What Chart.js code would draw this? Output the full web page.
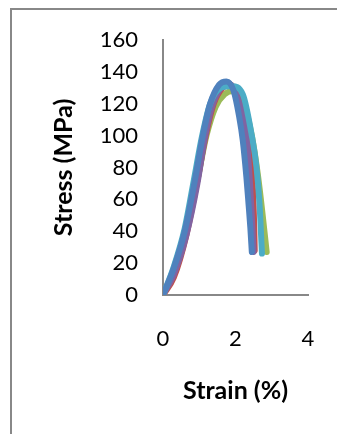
<!DOCTYPE html>
<html>
<head>
<meta charset="utf-8">
<script src="https://cdn.jsdelivr.net/npm/chart.js@4/dist/chart.umd.min.js"></script>
<style>
  html, body { margin: 0; padding: 0; background: #fff; }
  #wrap { position: relative; width: 337px; height: 434px; overflow: hidden; }
  #c { position: absolute; left: 0; top: 0; }
  #frame { position: absolute; left: 10px; top: 8px; width: 400px; height: 500px;
           border-left: 2px solid #888; border-top: 2px solid #888; pointer-events: none; }
</style>
</head>
<body>
<div id="wrap">
  <canvas id="c" width="337" height="434"></canvas>
  <div id="frame"></div>
</div>
<script>
// Strain (%) / Stress (MPa)
const blueStrain   = [0, 0.3, 0.6, 0.88, 1.1, 1.3, 1.55, 1.75, 1.95, 2.1, 2.2, 2.3, 2.36, 2.41, 2.45];
const blueStress   = [0, 17, 40, 72, 100, 120, 132, 134, 128, 112, 97, 74, 57, 42, 27];
const cyanStrain   = [0, 0.3, 0.6, 0.85, 1.08, 1.3, 1.6, 1.9, 2.2, 2.45, 2.58, 2.66, 2.73];
const cyanStress   = [0, 18, 42, 72, 100, 120, 130, 131, 126, 100, 80, 58, 26];
const greenStrain  = [0, 0.3, 0.65, 0.95, 1.2, 1.45, 1.7, 1.95, 2.2, 2.45, 2.62, 2.75, 2.86];
const greenStress  = [0, 14, 40, 72, 100, 118, 126, 128, 122, 100, 75, 50, 27];
const redStrain    = [0, 0.3, 0.65, 0.95, 1.18, 1.4, 1.65, 1.85, 2.1, 2.3, 2.4, 2.46, 2.5, 2.52, 2.53];
const redStress    = [0, 11, 38, 72, 100, 120, 130, 132, 125, 110, 96, 76, 56, 40, 28];
const purpleStrain = [0, 0.3, 0.65, 0.95, 1.15, 1.35, 1.6, 1.8, 2.0, 2.2, 2.32, 2.4, 2.46, 2.5];
const purpleStress = [0, 13, 38, 70, 98, 118, 130, 133, 127, 112, 95, 70, 45, 27];

const xTicks = [0, 2, 4];
const yTicks = [0, 20, 40, 60, 80, 100, 120, 140, 160];

function pts(xs, ys) { return xs.map((x, i) => ({ x: x, y: ys[i] })); }
function ds(label, xs, ys, color, order) {
  return { label, data: pts(xs, ys), borderColor: color, backgroundColor: color,
    borderWidth: 6, pointRadius: 0, showLine: true, cubicInterpolationMode: 'monotone',
    borderCapStyle: 'round', borderJoinStyle: 'round', order };
}

const FONT = 'Lato, "Open Sans", sans-serif';
new Chart(document.getElementById('c'), {
  type: 'scatter',
  data: { datasets: [
    ds('Series 1', blueStrain, blueStress, '#4F81BD', 0),
    ds('Series 2', redStrain, redStress, '#C0504D', 3),
    ds('Series 3', greenStrain, greenStress, '#9BBB59', 4),
    ds('Series 4', purpleStrain, purpleStress, '#8064A2', 2),
    ds('Series 5', cyanStrain, cyanStress, '#4BACC6', 1)
  ]},
  options: {
    responsive: false, animation: false, events: [],
    layout: { padding: { top: 40, right: 29, left: 0, bottom: 0 } },
    plugins: { legend: { display: false }, tooltip: { enabled: false } },
    scales: {
      x: {
        type: 'linear', min: 0, max: 4,
        afterBuildTicks: s => { s.ticks = xTicks.map(v => ({ value: v })); },
        afterFit: s => { s.height = 139; s.paddingLeft = 0; s.paddingRight = 0; },
        grid: { display: false, drawTicks: false },
        border: { display: true, color: '#888', width: 2 },
        ticks: { color: '#000', padding: 31, maxRotation: 0, font: { family: FONT, size: 22 } },
        title: { display: true, text: 'Strain (%)', color: '#000',
                 font: { family: FONT, size: 25, weight: 'bold' }, padding: { top: 0, bottom: 28 } }
      },
      y: {
        type: 'linear', min: 0, max: 160,
        afterBuildTicks: s => { s.ticks = yTicks.map(v => ({ value: v })); },
        afterFit: s => { s.width = 163; s.paddingTop = 0; s.paddingBottom = 0; },
        grid: { display: false, drawTicks: false },
        border: { display: true, color: '#888', width: 2 },
        ticks: { color: '#000', padding: 25, font: { family: FONT, size: 22 } },
        title: { display: true, text: 'Stress (MPa)', color: '#000',
                 font: { family: FONT, size: 25, weight: 'bold' }, padding: { top: 49, bottom: 0 } }
      }
    }
  }
});
</script>
</body>
</html>
